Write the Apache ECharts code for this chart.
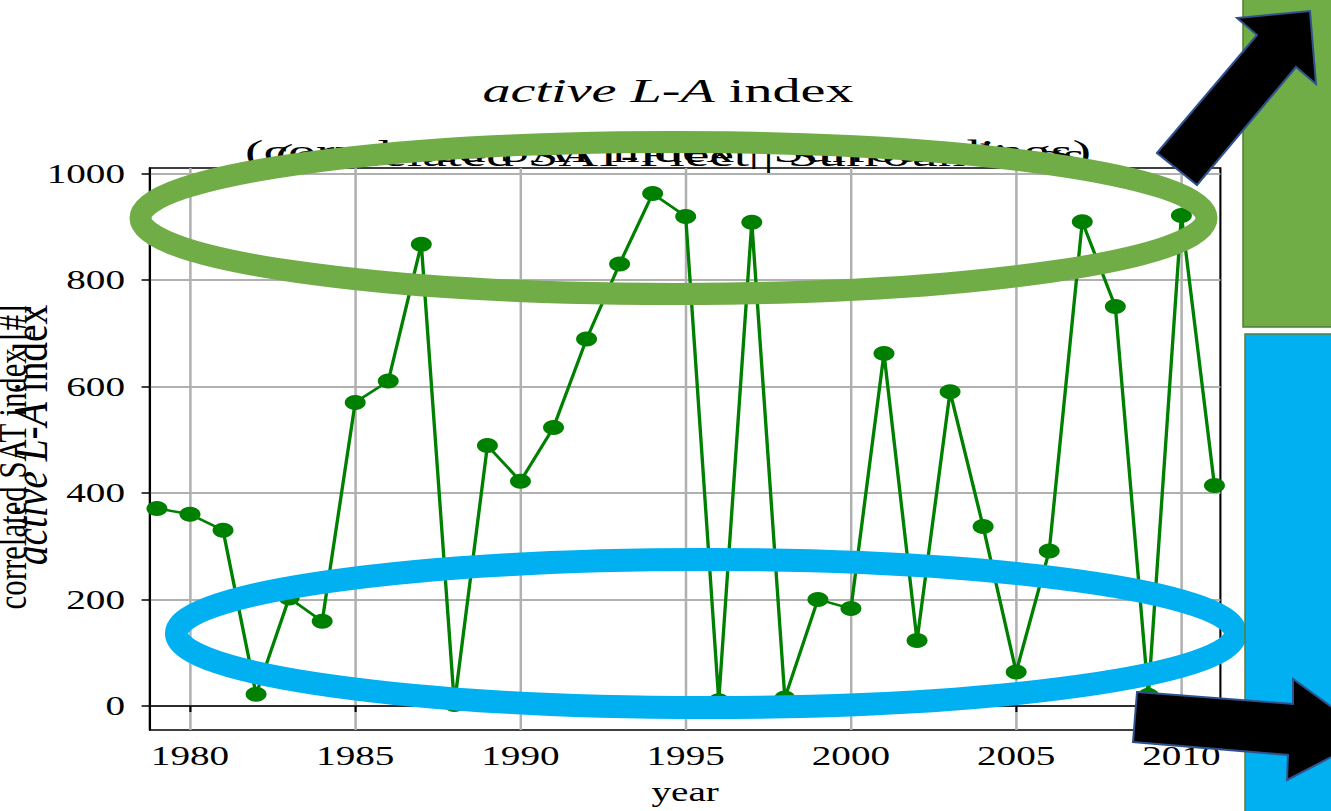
<!DOCTYPE html>
<html>
<head>
<meta charset="utf-8">
<script src="https://cdn.jsdelivr.net/npm/echarts@6/dist/echarts.min.js"></script>
<style>
  html, body { margin: 0; padding: 0; width: 1331px; height: 811px; overflow: hidden; background: #fff; }
  #chart { position: absolute; left: 0; top: 0; height: 811px; transform-origin: 0 0; }
  #overlay { position: absolute; left: 0; top: 0; width: 1331px; height: 811px; }
</style>
</head>
<body>
<div id="chart"></div>
<div id="overlay"></div>
<script>
// data
const years = [1979, 1980, 1981, 1982, 1983, 1984, 1985, 1986, 1987, 1988, 1989,
  1990, 1991, 1992, 1993, 1994, 1995, 1996, 1997, 1998, 1999, 2000,
  2001, 2002, 2003, 2004, 2005, 2006, 2007, 2008, 2009, 2010, 2011]
const laIndex = [371, 360, 330, 22, 203, 159, 570, 610, 867, 3, 489,
  422, 523, 689, 830, 962, 919, 10, 908, 15, 200, 183,
  662, 123, 590, 337, 64, 291, 909, 750, 20, 921, 414]
const xTicks = [1980, 1985, 1990, 1995, 2000, 2005, 2010]
const yTicks = [0, 200, 400, 600, 800, 1000]

// the figure looks stretched sideways, so draw narrow and scale it
const S = 1.4
const W = 1331 / S
const serif = '"Liberation Serif", "DejaVu Serif", serif'
const bx = v => v / S
const plain = v => String(v)

const el = document.getElementById('chart')
el.style.width = W + 'px'
el.style.transform = 'scaleX(' + S + ')'

const chart = echarts.init(el, null, { renderer: 'svg' })

const option = {
  animation: false,
  backgroundColor: '#fff',
  textStyle: { fontFamily: serif },
  grid: {
    left: bx(150),
    right: W - bx(1220),
    top: 168,
    bottom: 77,
    show: true,
    borderColor: '#000',
    borderWidth: 1.5,
    backgroundColor: 'transparent'
  },
  xAxis: {
    type: 'value',
    min: 1978.79,
    max: 2011.18,
    splitNumber: 7,
    name: 'year',
    nameLocation: 'middle',
    nameGap: 48,
    nameTextStyle: { fontSize: 28, color: '#000', fontFamily: serif },
    axisLine: { show: true, lineStyle: { color: '#000', width: 1.5 } },
    axisTick: { show: true, length: 6, customValues: xTicks, lineStyle: { color: '#000', width: 1.5 } },
    axisLabel: { customValues: xTicks, formatter: plain, fontSize: 28, color: '#000', margin: 12, fontFamily: serif },
    splitLine: { show: true, lineStyle: { color: '#b0b0b0', width: 1.8 } }
  },
  yAxis: {
    type: 'value',
    min: -45,
    max: 1010,
    splitNumber: 5,
    axisLine: { show: true, lineStyle: { color: '#000', width: 1.5 } },
    axisTick: { show: true, length: 6, customValues: yTicks, lineStyle: { color: '#000', width: 1.5 } },
    axisLabel: { customValues: yTicks, formatter: plain, fontSize: 28, color: '#000', margin: bx(25), fontFamily: serif },
    splitLine: { show: true, lineStyle: { color: '#b0b0b0', width: 2 } }
  },
  graphic: [
    {
      type: 'text',
      x: bx(668), y: 91,
      scaleX: 1.18,
      style: {
        text: '{i|active L-A} index',
        textAlign: 'center', textVerticalAlign: 'middle',
        fontSize: 34, fontFamily: serif, fill: '#000',
        rich: { i: { fontStyle: 'italic', fontSize: 34, fontFamily: serif } }
      }
    },
    {
      type: 'text',
      x: bx(680), y: 156,
      scaleX: 1.27,
      style: {
        text: '(correlated SAT-Fleet | Surroundings',
        textAlign: 'center', textVerticalAlign: 'middle',
        fontSize: 31, fontFamily: serif, fill: '#000'
      }
    },
    {
      type: 'text',
      x: bx(668), y: 152,
      scaleX: 1.28,
      style: {
        text: '(correlated SAT index | Surroundings)',
        textAlign: 'center', textVerticalAlign: 'middle',
        fontSize: 31, fontFamily: serif, fill: '#000'
      }
    },
    {
      type: 'text',
      x: bx(13), y: 457,
      rotation: Math.PI / 2,
      scaleX: 1.1,
      style: {
        text: 'correlated SAT index [#]',
        textAlign: 'center', textVerticalAlign: 'middle',
        fontSize: 28, fontFamily: serif, fill: '#000'
      }
    },
    {
      type: 'text',
      x: bx(31), y: 435,
      rotation: Math.PI / 2,
      scaleX: 1.16,
      style: {
        text: '{i|active L-A} index',
        textAlign: 'center', textVerticalAlign: 'middle',
        fontSize: 34, fontFamily: serif, fill: '#000',
        rich: { i: { fontStyle: 'italic', fontSize: 34, fontFamily: serif } }
      }
    }
  ],
  series: [
    {
      name: 'active L-A index',
      type: 'line',
      data: years.map((y, i) => [y, laIndex[i]]),
      symbol: 'circle',
      symbolSize: 15,
      lineStyle: { color: '#008000', width: 2.4 },
      itemStyle: { color: '#008000' }
    }
  ]
}
chart.setOption(option)

// shapes drawn over the figure (ellipses, boxes and arrows)
const overlay = echarts.init(document.getElementById('overlay'), null, { renderer: 'canvas' })
overlay.setOption({
  animation: false,
  graphic: [
    {
      type: 'ellipse',
      shape: { cx: 673.5, cy: 218, rx: 533, ry: 76 },
      style: { fill: 'none', stroke: '#70AD47', lineWidth: 22 }
    },
    {
      type: 'rect',
      shape: { x: 1243, y: -3, width: 95, height: 330 },
      style: { fill: '#70AD47', stroke: '#507E32', lineWidth: 1.5 }
    },
    {
      type: 'ellipse',
      shape: { cx: 706, cy: 633.5, rx: 529.5, ry: 74 },
      style: { fill: 'none', stroke: '#00B0F0', lineWidth: 23 }
    },
    {
      type: 'rect',
      shape: { x: 1245, y: 334, width: 95, height: 485 },
      style: { fill: '#00B0F0', stroke: '#5B7B3A', lineWidth: 1.5 }
    },
    {
      type: 'polygon',
      shape: { points: [[1157, 153], [1257, 35], [1237, 18], [1310, 11], [1316, 84], [1296, 67], [1197, 185]] },
      style: { fill: '#000', stroke: '#2F528F', lineWidth: 2 }
    },
    {
      type: 'polygon',
      shape: { points: [[1137, 692], [1293, 704], [1293, 679], [1372, 736], [1287, 780], [1288, 755], [1133, 742]] },
      style: { fill: '#000', stroke: '#2F528F', lineWidth: 2 }
    }
  ]
})
</script>
</body>
</html>
